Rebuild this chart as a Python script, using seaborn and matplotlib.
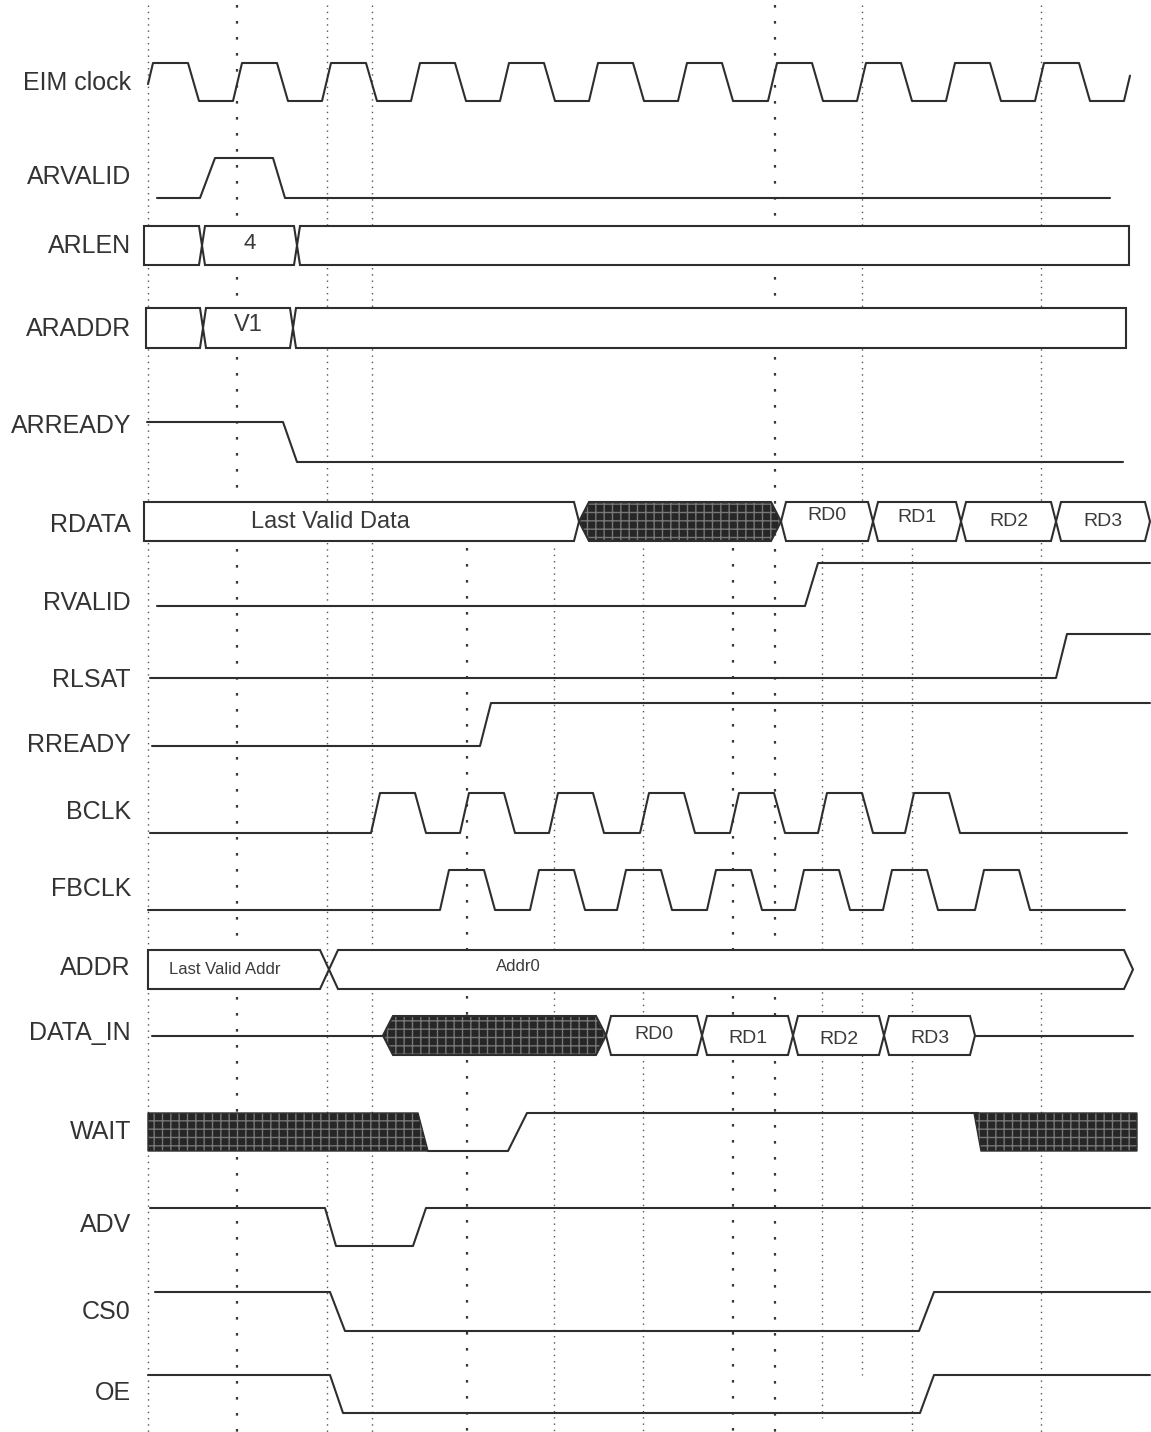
import numpy as np
import matplotlib
matplotlib.use("Agg")
import matplotlib.pyplot as plt
from matplotlib.patches import Polygon
import seaborn as sns

# ---- signal rows (label, high-level y, low-level y), picture is in pixel space
signals = ["EIM clock", "ARVALID", "ARLEN", "ARADDR", "ARREADY", "RDATA", "RVALID",
           "RLSAT", "RREADY", "BCLK", "FBCLK", "ADDR", "DATA_IN", "WAIT", "ADV", "CS0", "OE"]
label_y = [83, 177, 246, 329, 426, 525, 603, 680, 745, 812, 889, 968, 1033, 1132, 1225, 1312, 1393]
row_hi = [63, 158, 226, 308, 422, 502, 563, 634, 703, 793, 870, 950, 1016, 1113, 1208, 1292, 1375]
row_lo = [101, 198, 265, 348, 462, 541, 606, 678, 746, 833, 910, 989, 1055, 1151, 1246, 1331, 1413]

# ---- clocks: time of each rising edge
eim_rises = [144, 233, 322, 411, 500, 589, 678, 768, 857, 946, 1035, 1124]
bclk_rises = [371, 460, 549, 640, 730, 818, 905]
fbclk_rises = [440, 530, 617, 707, 795, 883, 975]

# ---- single-bit signals: breakpoints (time, level 0/1)
arvalid_t = [157, 200, 215, 273, 285, 1110]
arvalid_v = [0, 0, 1, 1, 0, 0]
arready_t = [147, 283, 297, 1123]
arready_v = [1, 1, 0, 0]
rvalid_t = [157, 805, 818, 1150]
rvalid_v = [0, 0, 1, 1]
rlsat_t = [150, 1056, 1067, 1150]
rlsat_v = [0, 0, 1, 1]
rready_t = [152, 480, 491, 1150]
rready_v = [0, 0, 1, 1]
wait_t = [428, 508, 527, 978]
wait_v = [0, 0, 1, 1]
adv_t = [150, 325, 336, 413, 426, 1150]
adv_v = [1, 1, 0, 0, 1, 1]
cs0_t = [155, 330, 345, 919, 934, 1150]
cs0_v = [1, 1, 0, 0, 1, 1]
oe_t = [148, 330, 343, 920, 934, 1150]
oe_v = [1, 1, 0, 0, 1, 1]
data_in_idle = [(152, 383), (975, 1133)]
wait_unknown = [(148, 428), (974, 1137)]

# ---- buses: segment boundaries, values, kind (d = data, x = unknown)
arlen_t = [144, 202, 297, 1129]
arlen_val = ["", "4", ""]
araddr_t = [146, 203, 293, 1126]
araddr_val = ["", "V1", ""]
rdata_t = [144, 579, 781, 873, 961, 1056, 1150]
rdata_val = ["Last Valid Data", "", "RD0", "RD1", "RD2", "RD3"]
rdata_kind = ["d", "x", "d", "d", "d", "d"]
addr_t = [148, 329, 1133]
addr_val = ["Last Valid Addr", "Addr0"]
data_in_t = [383, 606, 702, 793, 884, 975]
data_in_val = ["", "RD0", "RD1", "RD2", "RD3"]
data_in_kind = ["x", "d", "d", "d", "d"]

# ---- reference grid lines
grid_full = [148, 237, 327, 372, 775, 862, 1041]
grid_lower = [467, 554, 643, 733, 822, 912]
grid_heavy = [237, 467, 733, 775]

# -------------------------------------------------------------------------
sns.set_theme(style="white")
plt.rcParams['font.family'] = ['Liberation Sans', 'DejaVu Sans']

INK = "#2e2e2e"
LW = 1.5
RISE, HIGH, FALL = 9, 35, 11

fig = plt.figure(figsize=(11.51, 14.32), dpi=100)
ax = fig.add_axes([0, 0, 1, 1])
ax.set_xlim(0, 1151)
ax.set_ylim(1432, 0)
ax.axis("off")

row = {name: i for i, name in enumerate(signals)}


def level_y(name, v):
    i = row[name]
    return row_lo[i] - np.asarray(v, dtype=float) * (row_lo[i] - row_hi[i])


def draw_wave(name, t, v):
    sns.lineplot(x=np.asarray(t, dtype=float), y=level_y(name, v), sort=False,
                 estimator=None, color=INK, lw=LW, ax=ax, zorder=3)


def draw_clock(name, rises, x0, x1):
    t, v = [min(x0, rises[0]) - 1], [0]
    for r in rises:
        t += [r, r + RISE, r + RISE + HIGH, r + RISE + HIGH + FALL]
        v += [0, 1, 1, 0]
    t.append(x1 + 100)
    v.append(0)
    t, v = np.array(t, float), np.array(v, float)
    keep = (t > x0) & (t < x1)
    tt = np.concatenate([[x0], t[keep], [x1]])
    vv = np.concatenate([[np.interp(x0, t, v)], v[keep], [np.interp(x1, t, v)]])
    draw_wave(name, tt, vv)


def hatch_patch(pts, lw):
    ax.add_patch(Polygon(pts, closed=True, fc="#262626", ec="#777777", lw=0,
                         hatch="++", zorder=2))
    ax.add_patch(Polygon(pts, closed=True, fc="none", ec=INK, lw=lw, zorder=3))


def bus_poly(name, x0, x1, tl, tr, kind):
    i = row[name]
    top, bot = row_hi[i], row_lo[i]
    mid = (top + bot) / 2
    pts = [(x0 + tl, top), (x1 - tr, top), (x1, mid), (x1 - tr, bot), (x0 + tl, bot), (x0, mid)]
    if kind == "x":
        hatch_patch(pts, LW)
    else:
        ax.add_patch(Polygon(pts, closed=True, fc="white", ec=INK, lw=LW, zorder=2))


def draw_bus(name, t, vals, kinds=None, tip=4, flat_l=True, flat_r=True, fs=14,
             text_x=None, text_dy=None):
    n = len(vals)
    kinds = kinds or ["d"] * n
    sizes = fs if isinstance(fs, list) else [fs] * n
    i = row[name]
    mid = (row_hi[i] + row_lo[i]) / 2
    for k in range(n):
        w = tip * 2 if kinds[k] == "x" else tip
        tl = 0 if (k == 0 and flat_l) else w
        tr = 0 if (k == n - 1 and flat_r) else w
        bus_poly(name, t[k], t[k + 1], tl, tr, kinds[k])
        if vals[k]:
            x = text_x[k] if text_x and text_x[k] else (t[k] + t[k + 1]) / 2
            dy = text_dy[k] if text_dy else 0
            ax.text(x, mid + dy, vals[k], ha="center", va="center", fontsize=sizes[k],
                    color="#3a3a3a", zorder=4)


# grid
for x in grid_full + grid_lower:
    y0 = 5 if x in grid_full else 548
    y1 = 1375 if x == 862 else (1418 if x == 822 else 1432)
    if x in grid_heavy:
        ax.vlines(x, y0, y1, colors="#3a3a3a", lw=1.6, linestyles=(0, (1.2, 6)), zorder=1)
    else:
        ax.vlines(x, y0, y1, colors="#555555", lw=1.0, linestyles=(0, (1, 3.5)), zorder=1)

# labels
for name, y in zip(signals, label_y):
    ax.text(131, y, name, ha="right", va="center", fontsize=18, color="#333333")

# clocks
draw_clock("EIM clock", eim_rises, 148, 1130)
draw_clock("BCLK", bclk_rises, 150, 1127)
draw_clock("FBCLK", fbclk_rises, 148, 1125)

# single-bit signals
draw_wave("ARVALID", arvalid_t, arvalid_v)
draw_wave("ARREADY", arready_t, arready_v)
draw_wave("RVALID", rvalid_t, rvalid_v)
draw_wave("RLSAT", rlsat_t, rlsat_v)
draw_wave("RREADY", rready_t, rready_v)
draw_wave("WAIT", wait_t, wait_v)
draw_wave("ADV", adv_t, adv_v)
draw_wave("CS0", cs0_t, cs0_v)
draw_wave("OE", oe_t, oe_v)
for a, b in data_in_idle:
    draw_wave("DATA_IN", [a, b], [0.5, 0.5])

# WAIT unknown regions (slanted on the side where it meets a driven level)
wi = row["WAIT"]
wt, wb = row_hi[wi], row_lo[wi]
for k, (a, b) in enumerate(wait_unknown):
    if k == 0:
        pts = [(a, wt), (b - 10, wt), (b, wb), (a, wb)]
    else:
        pts = [(a, wt), (b, wt), (b, wb), (a + 7, wb)]
    hatch_patch(pts, 1.0)

# buses
draw_bus("ARLEN", arlen_t, arlen_val, tip=3, fs=16, text_dy=[0, -2, 0])
draw_bus("ARADDR", araddr_t, araddr_val, tip=3, fs=17, text_dy=[0, -3, 0])
draw_bus("RDATA", rdata_t, rdata_val, rdata_kind, tip=5, flat_r=False,
         fs=[17, 14, 14, 14, 14, 14],
         text_x=[330, None, None, None, None, None], text_dy=[0, 0, -6, -4, 0, 0])
draw_bus("ADDR", addr_t, addr_val, tip=9, flat_r=False, fs=12,
         text_x=[225, 518], text_dy=[0, -3])
draw_bus("DATA_IN", data_in_t, data_in_val, data_in_kind, tip=5, flat_l=False, flat_r=False,
         fs=14, text_dy=[0, -1, 3, 4, 3])

fig.savefig("out.png", dpi=100)
